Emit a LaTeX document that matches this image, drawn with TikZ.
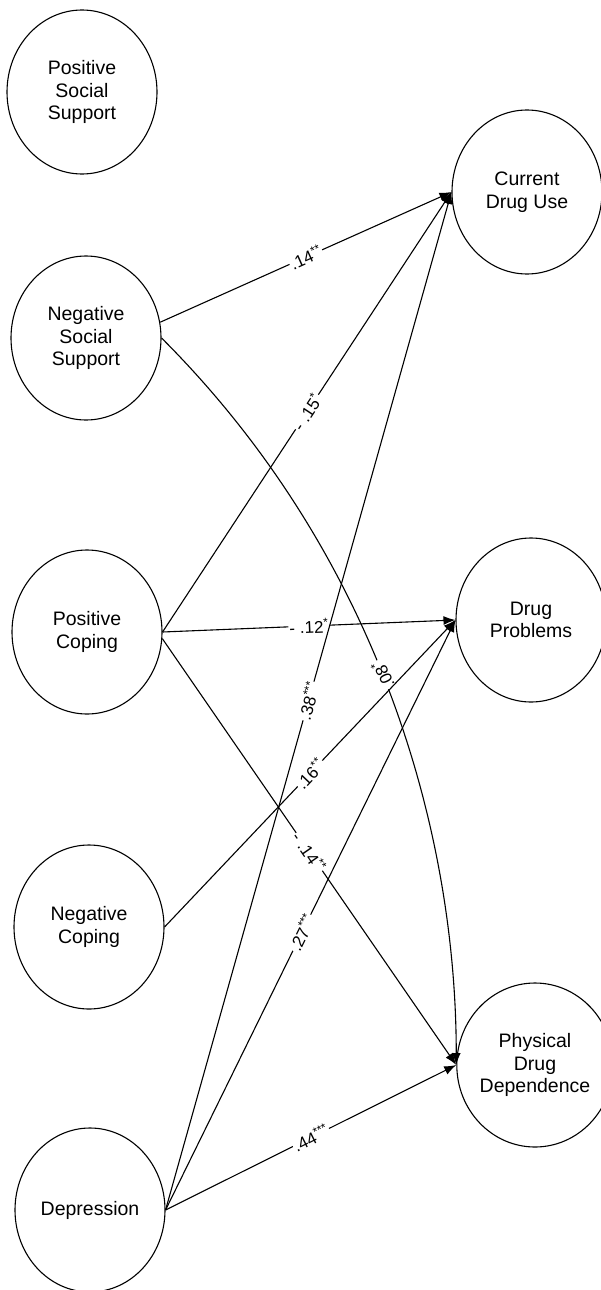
\documentclass[tikz,border=0pt]{standalone}
\usepackage{fontspec}
\setmainfont{Liberation Sans}
\usetikzlibrary{arrows.meta,shapes.geometric}
\tikzset{
  % construct: outlined ellipse, name set in the middle
  latent/.style = {ellipse, draw=black, line width=1.1pt, minimum width=150pt,
                   minimum height=164pt, inner sep=0pt, align=center,
                   font=\fontsize{19.5}{22.5}\selectfont},
  arr/.style    = {-{Latex[length=12pt,width=9pt]}, line width=1.1pt},
  coef/.style   = {fill=white, inner sep=1pt, font=\fontsize{17}{19}\selectfont},
}
\newcommand{\sig}[1]{\textsuperscript{#1}}

\begin{document}
\begin{tikzpicture}[x=1pt,y=1pt]
\useasboundingbox (0,0) rectangle (600,-1290);
% predictors
\node[latent] (pss) at (82,-92)   {Positive\\Social\\Support};
\node[latent] (nss) at (86,-338)  {Negative\\Social\\Support};
\node[latent] (pc)  at (87,-632)  {Positive\\Coping};
\node[latent] (nc)  at (89,-927)  {Negative\\Coping};
\node[latent] (dep) at (90,-1210) {Depression};
% outcomes
\node[latent] (cdu) at (527,-192)  {Current\\Drug Use};
\node[latent] (dp)  at (531,-620)  {Drug\\Problems};
\node[latent] (pdd) at (535,-1065) {Physical\\Drug\\Dependence};

% paths with standardized coefficients
\draw[arr] (nss.12) -- node[coef, sloped] {.14\sig{**}} (cdu.west);
\draw[arr] (nss.east) .. controls +(-45:310) and +(90:230) .. (pdd.west)
      node[coef, pos=0.47, rotate=115] {.08\sig{*}};
\draw[arr] (pc.east) -- node[coef, sloped] {- .15\sig{*}} (cdu.west);
\draw[arr] (pc.east) -- node[coef, sloped] {- .12\sig{*}} (dp.west);
\draw[arr] (dep.east) -- node[coef, sloped] {.38\sig{***}} (cdu.west);
\draw[arr] (nc.east) -- node[coef, sloped] {.16\sig{**}} (dp.west);
\draw[arr] (dep.east) -- node[coef, sloped, pos=0.47] {.27\sig{***}} (dp.west);
\draw[arr] (pc.-5) -- node[coef, sloped, pos=0.5] {- .14\sig{**}} (pdd.west);
\draw[arr] (dep.east) -- node[coef, sloped] {.44\sig{***}} (pdd.west);
\end{tikzpicture}
\end{document}
